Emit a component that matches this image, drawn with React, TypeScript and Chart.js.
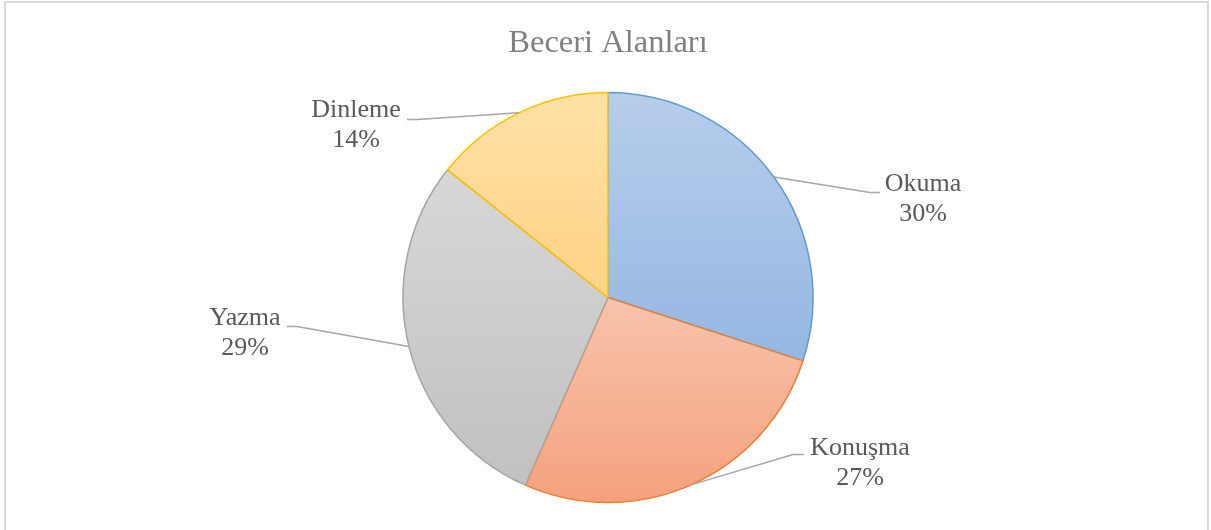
import React, { useEffect, useRef } from "react";
import { Chart, registerables } from "chart.js";

Chart.register(...registerables);

const TITLE = "Beceri Alanları";
const categories = ["Okuma", "Konuşma", "Yazma", "Dinleme"];
const values = [30, 26.6, 29.1, 14.3];
const percentLabels = ["30%", "27%", "29%", "14%"];

const borderColors = ["#5b9bd5", "#ed7d31", "#a5a5a5", "#ffc000"];
const gradientTops = ["#b7cdeb", "#f8c4ac", "#d7d7d7", "#ffe1a6"];
const gradientBottoms = ["#94b7e2", "#f4a17d", "#c1c1c1", "#fed385"];

// label layout, offsets from pie centre: elbow of leader, end of leader, text centre
const labelLayout = [
  { elbow: [262, -105], end: [272, -105], text: [315, -113] },
  { elbow: [185, 157], end: [196, 157], text: [252, 151] },
  { elbow: [-311, 29], end: [-321, 29], text: [-363, 21] },
  { elbow: [-191, -178], end: [-201, -178], text: [-252, -187] },
];

const SERIF = "'Liberation Serif', 'Times New Roman', serif";
const PIE_RADIUS = 205;

function sliceGradient(ctx: any) {
  const chart = ctx.chart;
  const i = ctx.dataIndex;
  const area = chart.chartArea;
  if (!area) return gradientTops[i];
  const cx = (area.left + area.right) / 2;
  const cy = (area.top + area.bottom) / 2;
  const r = PIE_RADIUS;
  const total = values.reduce((a, b) => a + b, 0);
  let cum = 0;
  for (let k = 0; k < i; k++) cum += values[k];
  const a0 = (cum / total) * Math.PI * 2;
  const a1 = ((cum + values[i]) / total) * Math.PI * 2;
  const ys = [cy, cy - r * Math.cos(a0), cy - r * Math.cos(a1)];
  let minY = Math.min(...ys);
  let maxY = Math.max(...ys);
  if (a0 <= 0.0001) minY = cy - r;
  if (a0 <= Math.PI && a1 >= Math.PI) maxY = cy + r;
  const g = chart.ctx.createLinearGradient(cx, minY, cx, maxY);
  g.addColorStop(0, gradientTops[i]);
  g.addColorStop(1, gradientBottoms[i]);
  return g;
}

const framePlugin = {
  id: "frame",
  beforeDraw(chart: any) {
    const c = chart.ctx;
    c.save();
    c.fillStyle = "#ffffff";
    c.fillRect(0, 0, chart.width, chart.height);
    c.strokeStyle = "#d9d9d9";
    c.lineWidth = 2;
    c.strokeRect(5, 2, chart.width - 8, chart.height + 20);
    c.restore();
  },
};

const labelPlugin = {
  id: "pieLabels",
  afterDatasetsDraw(chart: any) {
    const c = chart.ctx;
    const meta = chart.getDatasetMeta(0);
    meta.data.forEach((arc: any, i: number) => {
      const { x, y, outerRadius, startAngle, endAngle } = arc.getProps(
        ["x", "y", "outerRadius", "startAngle", "endAngle"],
        true
      );
      const mid = (startAngle + endAngle) / 2;
      const px = x + Math.cos(mid) * outerRadius;
      const py = y + Math.sin(mid) * outerRadius;
      const L = labelLayout[i];
      c.save();
      c.strokeStyle = "#a6a6a6";
      c.lineWidth = 1.5;
      c.beginPath();
      c.moveTo(px, py);
      c.lineTo(x + L.elbow[0], y + L.elbow[1]);
      c.lineTo(x + L.end[0], y + L.end[1]);
      c.stroke();
      c.fillStyle = "#595959";
      c.font = `26px ${SERIF}`;
      c.textAlign = "center";
      c.textBaseline = "middle";
      c.fillText(categories[i], x + L.text[0], y + L.text[1]);
      c.fillText(percentLabels[i], x + L.text[0], y + L.text[1] + 30);
      c.restore();
    });
  },
};

export default function App() {
  const ref = useRef<HTMLCanvasElement | null>(null);
  useEffect(() => {
    if (!ref.current) return;
    const chart = new Chart(ref.current, {
      type: "pie",
      data: {
        labels: categories,
        datasets: [
          {
            data: values,
            backgroundColor: sliceGradient as any,
            borderColor: borderColors,
            borderWidth: 1.5,
            radius: PIE_RADIUS,
          } as any,
        ],
      },
      options: {
        responsive: false,
        animation: false,
        devicePixelRatio: 1,
        layout: { padding: { left: 5, right: 0, top: 0, bottom: 23 } },
        plugins: {
          legend: { display: false },
          tooltip: { enabled: false },
          title: {
            display: true,
            text: TITLE,
            color: "#808080",
            font: { family: SERIF, size: 32.5, weight: "normal" },
            padding: { top: 24, bottom: 25 },
          },
        },
      },
      plugins: [framePlugin, labelPlugin],
    });
    return () => chart.destroy();
  }, []);
  return (
    <div style={{ position: "absolute", left: 0, top: 0, width: 1211, height: 530, background: "#fff" }}>
      <canvas ref={ref} width={1211} height={530} style={{ display: "block" }} />
    </div>
  );
}
